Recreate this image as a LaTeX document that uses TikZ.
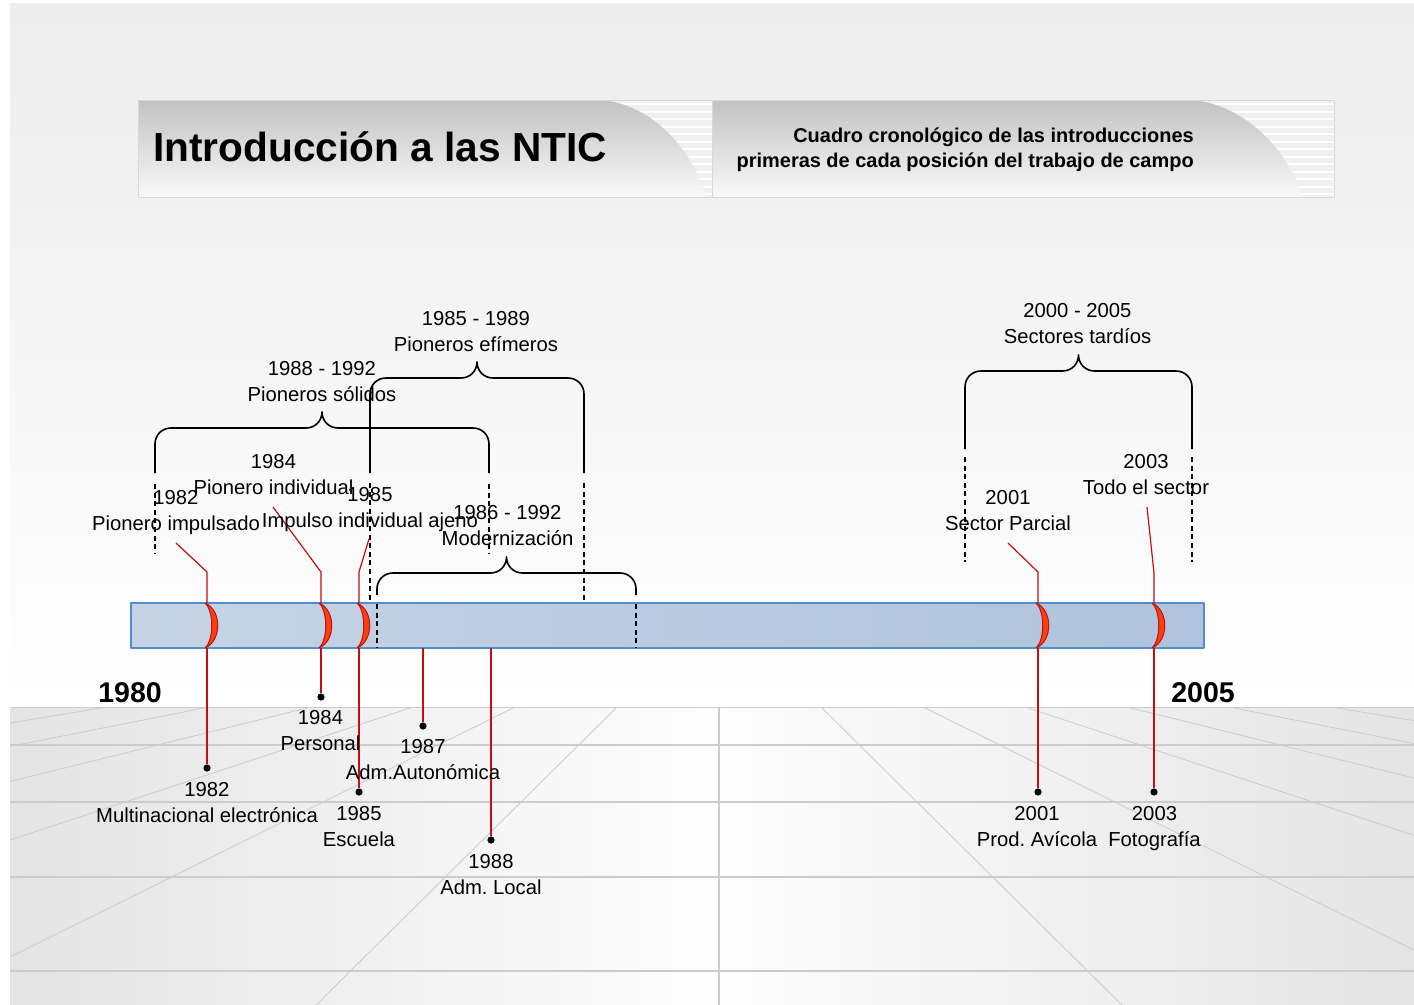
\documentclass[tikz,border=0pt]{standalone}
\usepackage{fontspec}
\setmainfont{Liberation Sans}
\frenchspacing
\definecolor{slidetop}{RGB}{236,236,236}
\definecolor{floorside}{RGB}{228,228,228}
\definecolor{floormid}{RGB}{253,253,253}
\definecolor{floorline}{RGB}{204,204,204}
\definecolor{headtop}{RGB}{194,194,194}
\definecolor{headbot}{RGB}{249,249,249}
\definecolor{headback}{RGB}{240,240,240}
\definecolor{barleft}{RGB}{197,211,229}
\definecolor{barright}{RGB}{176,195,220}
\definecolor{barline}{RGB}{79,143,206}
\definecolor{linkred}{RGB}{192,16,16}
\definecolor{arcred}{RGB}{250,64,16}
\newcommand\tlbrace[4]{%
  \draw[bracket] (#1,#4) -- (#1,#3+16) .. controls (#1,#3+7) and (#1+7,#3) .. (#1+16,#3)
    -- ({(#1+#2)/2-16},#3) .. controls ({(#1+#2)/2-7},#3) and ({(#1+#2)/2},#3-7) .. ({(#1+#2)/2},#3-16)
    .. controls ({(#1+#2)/2},#3-7) and ({(#1+#2)/2+7},#3) .. ({(#1+#2)/2+16},#3)
    -- (#2-16,#3) .. controls (#2-7,#3) and (#2,#3+7) .. (#2,#3+16) -- (#2,#4);}
\begin{document}
\begin{tikzpicture}[x=0.25mm,y=-0.25mm,line join=round,
  lbl/.style={font=\fontsize{14.4}{18.5}\selectfont,align=center,inner sep=0pt,anchor=north},
  link/.style={draw=linkred,line width=0.3mm},
  dot/.style={circle,fill=black,inner sep=0pt,minimum size=1.8mm},
  bracket/.style={line width=0.4mm},
  guide/.style={line width=0.5mm,dash pattern=on 1.25mm off 0.9mm},
  ringmark/.style={fill=arcred,draw=linkred,line width=0.25mm},
  floorgrid/.style={floorline,line width=0.4mm},
  floorray/.style={floorline,line width=0.2mm}]
  \useasboundingbox (0,0) rectangle (1414,1005);
  \fill[white] (0,0) rectangle (1414,1005);
  \shade[top color=slidetop,bottom color=white] (10,3) rectangle (1414,707);
  \shade[left color=floorside,right color=floorside,middle color=floormid] (10,707) rectangle (1414,1005);
  \begin{scope}
    \clip (10,707) rectangle (1414,1005);
    \foreach \k in {1,...,6} {
      \draw[floorray] (719,606) -- ++({-510*\k},505);
      \draw[floorray] (719,606) -- ++({510*\k},505);
    }
    \foreach \fy in {707,745,802,877,971}
      \draw[floorgrid] (10,\fy) -- (1414,\fy);
    \draw[floorgrid] (719,707) -- (719,1005);
  \end{scope}

  \fill[headback] (138,100) rectangle (1334,197);
  \foreach \sy in {104,111.5,...,197}
    \draw[white,line width=0.5mm] (138,\sy) -- (1334,\sy);
  \shade[top color=headtop,bottom color=headbot] (138,100) -- (595,100)
    .. controls (650,100) and (693,150) .. (706,197) -- (138,197) -- cycle;
  \shade[top color=headtop,bottom color=headbot] (712,100) -- (1186,100)
    .. controls (1241,100) and (1289,150) .. (1302,197) -- (712,197) -- cycle;
  \draw[headback!90!black,line width=0.25mm] (138,100) rectangle (1334,197) (712,100) -- (712,197);
  \node[anchor=base west,inner sep=0pt,font=\fontsize{28.9}{32}\selectfont\bfseries] (title) at (153,161) {Introducción a las NTIC};
  \node[anchor=north east,align=right,inner sep=0pt,font=\fontsize{14.2}{17.7}\selectfont\bfseries] (subtitle) at (1194,128)
    {Cuadro cronológico de las introducciones\\primeras de cada posición del trabajo de campo};

  \node[draw=barline,line width=0.35mm,left color=barleft,right color=barright,inner sep=0pt,
    minimum width=268.25mm,minimum height=11.25mm] (bar) at (667.5,625.5) {};

  \tlbrace{155}{489}{428}{473}
  \tlbrace{370}{584}{378}{473}
  \tlbrace{377}{636}{573}{595}
  \tlbrace{965}{1192}{371}{449}
  \draw[guide] (155,484) -- (155,553) (489,484) -- (489,553);
  \draw[guide] (370,483) -- (370,603) (584,483) -- (584,603);
  \draw[guide] (377,604) -- (377,648) (636,604) -- (636,648);
  \draw[guide] (965,457) -- (965,562) (1192,457) -- (1192,562);

  \foreach \n/\mx in {82/207,84/321,85/359,01/1038,03/1154} {
    \coordinate (t\n) at (\mx,603);
    \coordinate (b\n) at (\mx,648);
  }
  \coordinate (b87) at (423,648);
  \coordinate (b88) at (491,648);
  \coordinate (e82) at (176,543);
  \coordinate (e84) at (273,507);
  \coordinate (e85) at (369,539);
  \coordinate (e01) at (1008,543);
  \coordinate (e03) at (1147,507);

  \node[dot] (d82) at (207,768) {};
  \node[dot] (d84) at (321,697) {};
  \node[dot] (d85) at (359,792) {};
  \node[dot] (d87) at (423,726) {};
  \node[dot] (d88) at (491,840) {};
  \node[dot] (d01) at (1038,792) {};
  \node[dot] (d03) at (1154,792) {};

  \draw[link] (t82) -- ++(0,-31) -- (e82);
  \draw[link] (t84) -- ++(0,-31) -- (e84);
  \draw[link] (t85) -- ++(0,-31) -- (e85);
  \draw[link] (t01) -- ++(0,-31) -- (e01);
  \draw[link] (t03) -- ++(0,-30) -- (e03);
  \draw[link] (b82) -- (d82);
  \draw[link] (b84) -- (d84);
  \draw[link] (b85) -- (d85);
  \draw[link] (b87) -- (d87);
  \draw[link] (b88) -- (d88);
  \draw[link] (b01) -- (d01);
  \draw[link] (b03) -- (d03);

  \foreach \mx in {207,321,359,1038,1154}
    \filldraw[ringmark] (\mx-2,603) .. controls (\mx+15,610) and (\mx+15,641) .. (\mx-2,648)
      .. controls (\mx+7,640) and (\mx+7,611) .. (\mx-2,603) -- cycle;

  \node[anchor=base west,inner sep=0pt,font=\fontsize{20.3}{22}\selectfont\bfseries] (y1980) at (98,702.5) {1980};
  \node[anchor=base west,inner sep=0pt,font=\fontsize{20.3}{22}\selectfont\bfseries] (y2005) at (1171,702.5) {2005};

  \node[lbl] (efimeros) at (476,310.7) {1985 - 1989\\Pioneros efímeros};
  \node[lbl] (solidos) at (322,360.7) {1988 - 1992\\Pioneros sólidos};
  \node[lbl] (tardios) at (1077.5,302.7) {2000 - 2005\\Sectores tardíos};
  \node[lbl] (moder) at (507.5,504.7) {1986 - 1992\\Modernización};
  \node[lbl] (lab82) at (176,489.7) {1982\\Pionero impulsado};
  \node[lbl] (lab84) at (273.5,453.7) {1984\\Pionero individual};
  \node[lbl] (lab85) at (370,486.7) {1985\\Impulso individual ajeno};
  \node[lbl] (lab01) at (1008,489.7) {2001\\Sector Parcial};
  \node[lbl] (lab03) at (1146,453.7) {2003\\Todo el sector};

  \node[lbl] (bl82) at (207,781.7) {1982\\Multinacional electrónica};
  \node[lbl] (bl84) at (320.5,709.7) {1984\\Personal};
  \node[lbl] (bl85) at (359,805.7) {1985\\Escuela};
  \node[lbl] (bl87) at (423,738.7) {1987\\Adm.Autonómica};
  \node[lbl] (bl88) at (491,853.7) {1988\\Adm. Local};
  \node[lbl] (bl01) at (1037,805.7) {2001\\Prod. Avícola};
  \node[lbl] (bl03) at (1154.5,805.7) {2003\\Fotografía};
\end{tikzpicture}
\end{document}
